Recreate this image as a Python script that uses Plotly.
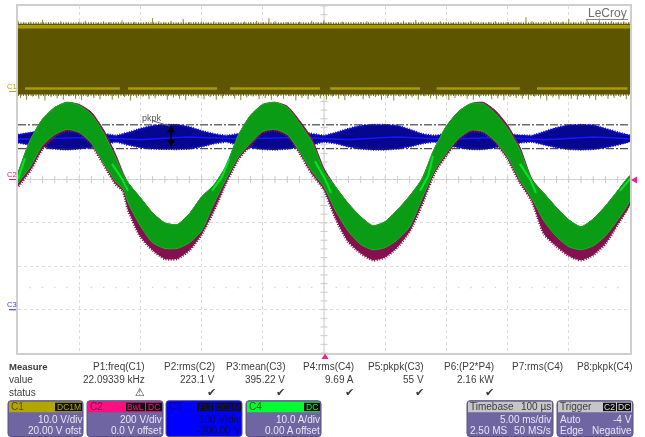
import plotly.graph_objects as go

# x axis: ms (5 ms/div), y axis: screen divisions from centre
t = list(range(51))
t_pinch = [0,1,2,3,4,5,6,7,8,8.6,9,10,11,12,13,14,15,16,17,18,19,20,21,22,23,24,25,26,27,28,29,30,31,32,33,34,35,36,37,38,39,40,41,42,43,44,45,46,47,48,49,50]
c4_upper = [0.15,0.91,1.39,1.66,1.78,1.71,1.50,1.07,0.49,0.10,-0.08,-0.42,-0.77,-1.00,-1.04,-0.79,-0.40,-0.13,0.31,1.02,1.48,1.73,1.78,1.66,1.30,0.88,0.19,-0.19,-0.56,-0.86,-1.07,-0.97,-0.70,-0.38,0.01,0.70,1.23,1.57,1.75,1.75,1.53,1.18,0.68,-0.03,-0.33,-0.65,-0.93,-1.09,-0.91,-0.61,-0.26,0.08]
c4_lower = [-0.08,0.29,0.79,1.04,1.16,1.09,0.84,0.38,-0.06,-0.22,-0.54,-1.07,-1.46,-1.59,-1.59,-1.46,-1.18,-0.56,0.01,0.52,0.84,1.11,1.16,1.04,0.65,0.19,-0.17,-0.75,-1.20,-1.50,-1.62,-1.57,-1.39,-1.09,-0.45,0.19,0.61,0.95,1.14,1.11,0.88,0.52,-0.01,-0.45,-0.97,-1.32,-1.55,-1.62,-1.53,-1.30,-0.93,-0.47]
c2_lower = [-0.15,0.22,0.72,1.00,1.14,1.07,0.82,0.36,-0.10,-0.26,-0.68,-1.30,-1.62,-1.82,-1.82,-1.62,-1.25,-0.70,-0.06,0.48,0.80,1.09,1.14,1.02,0.63,0.15,-0.22,-0.91,-1.43,-1.69,-1.85,-1.78,-1.55,-1.18,-0.56,0.15,0.57,0.93,1.12,1.09,0.86,0.49,-0.05,-0.49,-1.25,-1.53,-1.75,-1.85,-1.73,-1.46,-1.02,-0.56]
c2_upper = [0.15,0.91,1.39,1.66,1.78,1.73,1.55,1.14,0.56,0.14,-0.08,-0.42,-0.77,-1.00,-1.04,-0.79,-0.40,-0.13,0.31,1.02,1.48,1.73,1.78,1.69,1.36,0.95,0.25,-0.19,-0.56,-0.86,-1.07,-0.97,-0.70,-0.38,0.01,0.70,1.23,1.57,1.75,1.78,1.59,1.25,0.75,0.00,-0.33,-0.65,-0.93,-1.09,-0.91,-0.61,-0.26,0.08]

c3_upper = [1.02,1.07,1.11,1.14,1.16,1.14,1.09,1.04,1.00,1.07,1.16,1.23,1.25,1.25,1.20,1.11,1.04,1.00,1.04,1.11,1.15,1.16,1.14,1.09,1.04,1.00,1.07,1.16,1.23,1.25,1.25,1.23,1.14,1.04,1.00,1.04,1.11,1.15,1.15,1.11,1.04,1.01,1.00,1.09,1.18,1.24,1.25,1.24,1.16,1.07,1.00]
c3_lower = [0.86,0.81,0.77,0.72,0.70,0.72,0.75,0.81,0.88,0.81,0.75,0.72,0.71,0.71,0.72,0.77,0.84,0.88,0.81,0.75,0.71,0.70,0.72,0.77,0.81,0.88,0.84,0.77,0.72,0.70,0.70,0.72,0.77,0.84,0.88,0.81,0.75,0.71,0.71,0.75,0.81,0.86,0.88,0.81,0.75,0.71,0.70,0.71,0.75,0.81,0.89]
c3_mean  = [0.93,0.93,0.94,0.95,0.96,0.97,0.97,0.96,0.94,0.93,0.92,0.93,0.95,0.97,0.98,0.97,0.96,0.94,0.93,0.93,0.95,0.96,0.97,0.97,0.96,0.94,0.93,0.92,0.93,0.95,0.97,0.98,0.97,0.95,0.94,0.93,0.94,0.95,0.96,0.97,0.96,0.95,0.94,0.92,0.93,0.95,0.97,0.98,0.97,0.95,0.94]

c1_band = [3.59, 1.96]
c1_top_t = [i * 0.5 for i in range(101)]
c1_top_tip = [3.66,3.62,3.64,3.61,3.68,3.63,3.61,3.65,3.62,3.60,3.64,3.66,3.62,3.61,3.65,3.63,3.61,3.67,3.62,3.64,3.61,3.63,3.72,3.65,3.62,3.66,3.61,3.70,3.63,3.62,3.64,3.61,3.65,3.62,3.60,3.63,3.61,3.64,3.62,3.66,3.62,3.72,3.65,3.61,3.63,3.62,3.64,3.61,3.66,3.62,3.67,3.63,3.61,3.64,3.62,3.60,3.63,3.65,3.61,3.62,3.64,3.61,3.63,3.66,3.62,3.68,3.64,3.61,3.62,3.65,3.63,3.61,3.64,3.62,3.66,3.61,3.63,3.62,3.65,3.61,3.63,3.64,3.62,3.74,3.65,3.61,3.63,3.66,3.62,3.64,3.70,3.62,3.65,3.68,3.63,3.71,3.64,3.66,3.62,3.65,3.63]
c1_bot_tip = [1.88,1.84,1.91,1.86,1.82,1.90,1.87,1.84,1.92,1.86,1.83,1.90,1.88,1.85,1.92,1.84,1.87,1.90,1.82,1.88,1.91,1.85,1.87,1.92,1.84,1.89,1.86,1.83,1.91,1.88,1.85,1.90,1.84,1.87,1.92,1.86,1.83,1.89,1.91,1.85,1.88,1.84,1.90,1.86,1.92,1.82,1.88,1.85,1.90,1.87,1.84,1.91,1.86,1.83,1.89,1.92,1.85,1.87,1.90,1.84,1.88,1.82,1.91,1.86,1.89,1.84,1.92,1.87,1.85,1.90,1.83,1.88,1.91,1.86,1.84,1.89,1.92,1.85,1.87,1.83,1.90,1.88,1.86,1.84,1.91,1.87,1.82,1.89,1.85,1.92,1.86,1.84,1.90,1.87,1.83,1.91,1.86,1.88,1.90,1.85,1.87]
c1_stripe_top = 3.52
c1_stripe_low = 2.10
c1_low_starts = [0.57, 8.99, 17.32, 25.5, 34.2, 42.4]
c1_low_ends = [8.33, 16.26, 24.67, 32.84, 41.0, 49.8]

cross_t = [0.0,0.57,None,7.68,8.5,8.99,None,15.85,16.67,17.24,None,24.26,25.08,25.57,None,32.84,33.5,33.9,None,41.0,41.83,42.32,None,49.18,50.0]
cross_y = [0.01,0.49,None,0.36,0.01,-0.26,None,-0.26,0.06,0.47,None,0.42,0.01,-0.31,None,-0.26,0.08,0.54,None,0.36,0.01,-0.31,None,-0.26,0.01]

cursor_levels = [1.26, 0.71]
arrow_t = 12.5

measure_names = ["P1:freq(C1)","P2:rms(C2)","P3:mean(C3)","P4:rms(C4)","P5:pkpk(C3)","P6:(P2*P4)","P7:rms(C4)","P8:pkpk(C4)"]
measure_values = ["22.09339 kHz","223.1 V","395.22 V","9.69 A","55 V","2.16 kW","",""]
measure_status = ["⚠","✔","✔","✔","✔","✔","",""]

W, H = 645, 437
L, R, T, B = 18, 630, 4, 353
FONT = "Liberation Sans"
TXT = "#3c3c3c"


def px(v):
    return (v - L) / (R - L)


def py(v):
    return (B - v) / (B - T)


def band(x, up, lo, color, line=None, lw=0):
    return go.Scatter(x=list(x) + list(x)[::-1], y=list(up) + list(lo)[::-1], mode="lines",
                      fill="toself", fillcolor=color, hoverinfo="skip",
                      line=dict(color=line or color, width=lw, shape="spline", smoothing=0.6))


COMB = "1px,1.5px"
traces = []
# graticule ticks (under the traces)
traces.append(go.Scatter(x=t, y=[0] * len(t), mode="markers",
                         marker=dict(symbol="line-ns", size=5, line=dict(color="#cccccc", width=1), color="#cccccc")))
y_ticks = [i * 0.2 for i in range(-20, 21)]
traces.append(go.Scatter(x=[25] * len(y_ticks), y=y_ticks, mode="markers",
                         marker=dict(symbol="line-ew", size=5, line=dict(color="#cccccc", width=1), color="#cccccc")))
traces.append(go.Scatter(x=t[1:50], y=[-2.49] * 49, mode="markers",
                         marker=dict(symbol="square", size=1.5, color="#d6d6d6")))
# C1
sx, sy = [], []
for a, tip, bot in zip(c1_top_t, c1_top_tip, c1_bot_tip):
    sx += [a, a, None, a + 0.2, a + 0.2, None]
    sy += [c1_band[0], tip, None, c1_band[1], bot, None]
traces.append(go.Scatter(x=sx, y=sy, mode="lines", line=dict(color="#8d8436", width=1)))
for lv in c1_band:
    traces.append(go.Scatter(x=[0, 50], y=[lv, lv], mode="lines", line=dict(color="#7d7420", width=3, dash=COMB)))
traces.append(go.Scatter(x=[0, 50, 50, 0], y=[c1_band[0], c1_band[0], c1_band[1], c1_band[1]], mode="lines",
                         fill="toself", fillcolor="#5e5500", line=dict(color="#5e5500", width=0)))
traces.append(go.Scatter(x=[0, 50], y=[c1_stripe_top] * 2, mode="lines", line=dict(color="#a89c00", width=3.5)))
lx, ly = [], []
for a, b in zip(c1_low_starts, c1_low_ends):
    lx += [a, b, None]
    ly += [c1_stripe_low, c1_stripe_low, None]
traces.append(go.Scatter(x=lx, y=ly, mode="lines", line=dict(color="#a89c00", width=2.5)))
# C3
traces.append(go.Scatter(x=t, y=c3_upper, mode="lines", line=dict(color="#0808c8", width=3, dash=COMB)))
traces.append(go.Scatter(x=t, y=c3_lower, mode="lines", line=dict(color="#06068f", width=3, dash=COMB)))
traces.append(band(t, c3_upper, c3_lower, "#06068f", "#0a0ad0", 1.5))
traces.append(go.Scatter(x=t, y=c3_mean, mode="lines", line=dict(color="#1616ff", width=1.6)))
# cursors
for lv in cursor_levels:
    traces.append(go.Scatter(x=[0, 50], y=[lv, lv], mode="lines",
                             line=dict(color="#222222", width=1, dash="8px,2px,2px,2px")))
# C2, C4
traces.append(go.Scatter(x=t_pinch, y=c2_lower, mode="lines",
                         line=dict(color="#84104f", width=3.5, dash=COMB, shape="spline", smoothing=0.6)))
traces.append(band(t_pinch, c2_upper, c2_lower, "#84104f", "#84104f", 1))
traces.append(band(t_pinch, c4_upper, c4_lower, "#0a9c14", "#14b41e", 1))
traces.append(go.Scatter(x=cross_t, y=cross_y, mode="lines", line=dict(color="#00e626", width=2)))

fig = go.Figure(traces)

shapes = [
    dict(type="line", xref="x", yref="y", x0=0, x1=50, y0=0, y1=0, line=dict(color="#cccccc", width=1), layer="below"),
    dict(type="line", xref="x", yref="y", x0=25, x1=25, y0=-4, y1=4, line=dict(color="#cccccc", width=1), layer="below"),
    dict(type="line", xref="x", yref="y", x0=10.95, x1=12.4, y0=1.36, y1=1.23, line=dict(color="#666666", width=1)),
]


def rect(x0, y0, x1, y1, color, line=None):
    shapes.append(dict(type="rect", xref="paper", yref="paper", x0=px(x0), x1=px(x1), y0=py(y0), y1=py(y1),
                       fillcolor=color, line=dict(color=line or color, width=1 if line else 0), layer="above"))


def rrect(x0, y0, x1, y1, color, line, r=3):
    p = (f"M {px(x0 + r)} {py(y0)} L {px(x1 - r)} {py(y0)} Q {px(x1)} {py(y0)} {px(x1)} {py(y0 + r)} "
         f"L {px(x1)} {py(y1 - r)} Q {px(x1)} {py(y1)} {px(x1 - r)} {py(y1)} "
         f"L {px(x0 + r)} {py(y1)} Q {px(x0)} {py(y1)} {px(x0)} {py(y1 - r)} "
         f"L {px(x0)} {py(y0 + r)} Q {px(x0)} {py(y0)} {px(x0 + r)} {py(y0)} Z")
    shapes.append(dict(type="path", xref="paper", yref="paper", path=p, fillcolor=color,
                       line=dict(color=line, width=1), layer="above"))


ann = []


def text(x, y, s, size=10, color=TXT, anchor="right", bold=False, family=FONT):
    ann.append(dict(xref="paper", yref="paper", x=px(x), y=py(y), text=f"<b>{s}</b>" if bold else s,
                    showarrow=False, xanchor=anchor, yanchor="middle", borderpad=0,
                    font=dict(family=family, size=size, color=color)))


# measure table
col_r = [146, 216, 286, 355, 425, 495, 564, 634]
text(8, 367, "Measure", anchor="left", bold=True, size=9.5)
text(8, 380, "value", anchor="left")
text(8, 393, "status", anchor="left")
status_x = [140, 211, 280, 349, 419, 489, 0, 0]
for r, n, v, s, sx_ in zip(col_r, measure_names, measure_values, measure_status, status_x):
    text(r, 367, n)
    if v:
        text(r, 380, v)
    if s:
        text(sx_, 393, s, size=11, anchor="center", family="DejaVu Sans", color="#3a3a3a")

# channel panels
PANEL = "#6f65a3"
panels = [
    (8, 83, "#b2a600", "#514a00", "C1", [("DC1M", 55, 82)], "10.0 V/div", "20.00 V ofst", "#e6e6ef", PANEL),
    (87, 163, "#ff0f80", "#7a0040", "C2", [("BwL", 126, 145), ("DC", 146, 162)], "200 V/div", "0.0 V offset", "#e6e6ef", PANEL),
    (166, 242, "#0000ff", "#000088", "C3", [("FLT", 197, 214), ("DC1M", 215, 241)], "100 V/div", "-300.00 V", "#0a0a50", "#0000ff"),
    (246, 321, "#00ff30", "#006614", "C4", [("DC", 304, 320)], "10.0 A/div", "0.00 A offset", "#e6e6ef", PANEL),
]
for x0, x1, head, hc, name, badges, l1, l2, tc, body in panels:
    rrect(x0, 401, x1, 437, body, "#57507f")
    rect(x0 + 1, 402, x1 - 1, 412.5, head)
    text(x0 + 2, 407, name, anchor="left", size=10, color=hc)
    for label, b0, b1 in badges:
        rect(b0, 403, b1, 411.5, "#111111")
        text((b0 + b1) / 2, 407, label, size=8.5, anchor="center", color=head)
    text(x1, 419.5, l1, color=tc)
    text(x1, 430.5, l2, color=tc)

rrect(467, 401, 553, 437, PANEL, "#57507f")
rect(468, 402, 552, 412.5, "#c6c6c6")
text(469, 407, "Timebase", anchor="left")
text(552, 407, "100 µs")
text(552, 419.5, "5.00 ms/div", color="#e6e6ef")
text(469, 430.5, "2.50 MS", anchor="left", color="#e6e6ef")
text(552, 430.5, "50 MS/s", color="#e6e6ef")

rrect(557, 401, 633, 437, PANEL, "#57507f")
rect(558, 402, 632, 412.5, "#c6c6c6")
text(559, 407, "Trigger", anchor="left")
rect(603, 403, 616, 411.5, "#111111")
text(609.5, 407, "C2", size=8.5, anchor="center", color="#dddddd")
rect(617, 403, 631, 411.5, "#111111")
text(624, 407, "DC", size=8.5, anchor="center", color="#dddddd")
text(559, 419.5, "Auto", anchor="left", color="#e6e6ef")
text(633, 419.5, "-4 V", color="#e6e6ef")
text(559, 430.5, "Edge", anchor="left", color="#e6e6ef")
text(633, 430.5, "Negative", color="#e6e6ef")

# on-screen labels
text(12, 85, "C1", size=7.5, anchor="center", color="#b2a600")
rect(9, 89.5, 16, 90.5, "#b2a600")
text(12, 173, "C2", size=7.5, anchor="center", color="#ff0f80")
rect(9, 178, 16, 179, "#ff0f80")
text(12, 304, "C3", size=7.5, anchor="center", color="#4040ff")
rect(9, 309, 16, 310, "#2020ff")
text(607, 11, "LeCroy", size=12, anchor="center", color="#6e6e6e")
rect(586, 17, 628, 18, "#8a8a8a")
text(152, 117, "pkpk", size=9, anchor="center", color="#555555")

# trigger markers
shapes.append(dict(type="path", xref="paper", yref="paper", layer="above", fillcolor="#ff1a8c", line=dict(width=0),
                   path=f"M {px(325)} {py(353.5)} L {px(321.5)} {py(359)} L {px(328.5)} {py(359)} Z"))
shapes.append(dict(type="path", xref="paper", yref="paper", layer="above", fillcolor="#ff1a8c", line=dict(width=0),
                   path=f"M {px(631)} {py(179)} L {px(637)} {py(175.5)} L {px(637)} {py(182.5)} Z"))

ann.append(dict(x=arrow_t, y=cursor_levels[0], ax=arrow_t, ay=cursor_levels[1], xref="x", yref="y", axref="x", ayref="y",
                text="", showarrow=True, arrowside="end+start", arrowhead=2, startarrowhead=2,
                arrowsize=1, startarrowsize=1, arrowwidth=1.5, arrowcolor="#000000"))

fig.update_layout(
    width=W, height=H, margin=dict(l=L, r=W - R, t=T, b=H - B, pad=0),
    paper_bgcolor="white", plot_bgcolor="white", showlegend=False,
    shapes=shapes, annotations=ann,
    xaxis=dict(range=[0, 50], dtick=5, tick0=0, showticklabels=False, ticks="", zeroline=False,
               showgrid=True, gridcolor="#dcdcdc", griddash="dot", gridwidth=1,
               showline=True, mirror=True, linecolor="#cfcfcf", linewidth=1.5),
    yaxis=dict(range=[-4, 4], dtick=1, tick0=0, showticklabels=False, ticks="", zeroline=False,
               showgrid=True, gridcolor="#dcdcdc", griddash="dot", gridwidth=1,
               showline=True, mirror=True, linecolor="#cfcfcf", linewidth=1.5),
)

fig.write_html("out.html", config={"displayModeBar": False},
               post_script="document.body.style.margin='0';document.documentElement.style.overflow='hidden';document.body.style.filter='blur(0.4px)';")
